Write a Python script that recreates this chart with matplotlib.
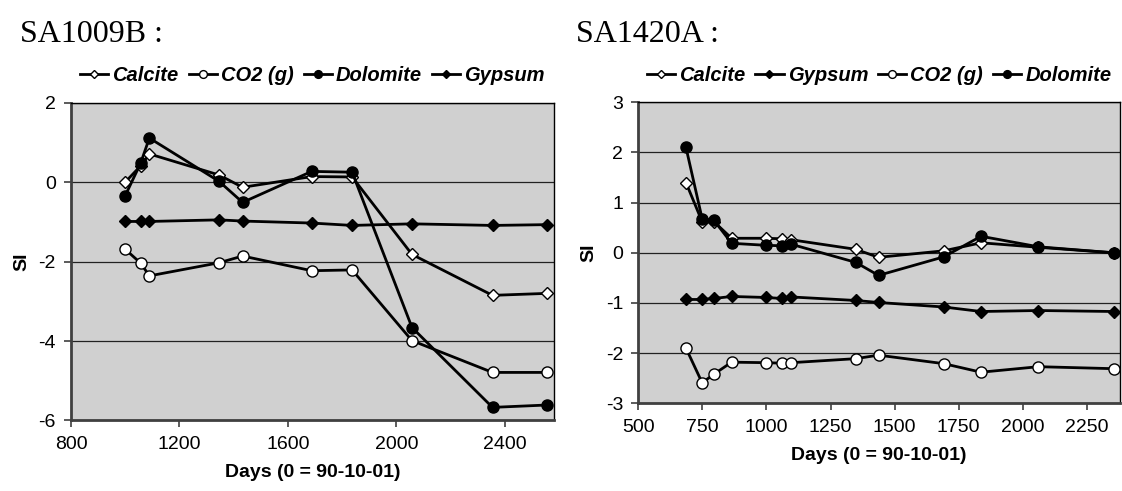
import numpy as np
import matplotlib
matplotlib.use("Agg")
import matplotlib.pyplot as plt

plt.rcParams['font.family'] = ['Liberation Sans', 'DejaVu Sans']
plt.rcParams['axes.unicode_minus'] = False

# SA1009B
dias_a = [1000, 1057, 1089, 1346, 1433, 1688, 1837, 2058, 2355, 2557]
calcite_a = [0.0, 0.41, 0.71, 0.18, -0.13, 0.14, 0.13, -1.82, -2.85, -2.80]
co2_a = [-1.69, -2.04, -2.36, -2.03, -1.86, -2.23, -2.21, -3.99, -4.79, -4.79]
dolomite_a = [-0.34, 0.48, 1.11, 0.02, -0.51, 0.27, 0.25, -3.66, -5.67, -5.61]
gypsum_a = [-0.99, -0.99, -0.99, -0.95, -0.98, -1.03, -1.09, -1.05, -1.09, -1.07]

# SA1420A
dias_b = [686, 749, 795, 864, 997, 1060, 1097, 1348, 1437, 1692, 1837, 2061, 2356]
calcite_b = [1.40, 0.62, 0.62, 0.29, 0.29, 0.28, 0.26, 0.07, -0.09, 0.04, 0.20, 0.11, 0.0]
gypsum_b = [-0.93, -0.93, -0.91, -0.87, -0.89, -0.91, -0.88, -0.95, -0.99, -1.08, -1.17, -1.15, -1.17]
co2_b = [-1.90, -2.59, -2.42, -2.18, -2.19, -2.20, -2.19, -2.11, -2.04, -2.21, -2.38, -2.27, -2.31]
dolomite_b = [2.10, 0.68, 0.65, 0.19, 0.15, 0.14, 0.17, -0.19, -0.45, -0.08, 0.33, 0.12, 0.0]

estilos = {
    'Calcite': dict(marker='D', markersize=6, markerfacecolor='white'),
    'CO2 (g)': dict(marker='o', markersize=8, markerfacecolor='white'),
    'Dolomite': dict(marker='o', markersize=8, markerfacecolor='black'),
    'Gypsum': dict(marker='D', markersize=6, markerfacecolor='black'),
}

fig = plt.figure(figsize=(11.22, 4.91), dpi=100)
ax1 = fig.add_axes([0.0633, 0.1436, 0.4305, 0.6473])
ax2 = fig.add_axes([0.5689, 0.1786, 0.4293, 0.6130])


def dibujar(ax, x, series):
    for nombre, y in series:
        ax.plot(x, y, color='black', lw=2.0, markeredgecolor='black',
                markeredgewidth=1.0, label=nombre, **estilos[nombre])
    ax.set_facecolor('#d0d0d0')
    ax.grid(axis='y', color='#222222', lw=0.9)
    ax.set_axisbelow(True)
    for lado in ['top', 'right']:
        ax.spines[lado].set_color('black')
        ax.spines[lado].set_linewidth(1.0)
    for lado in ['left', 'bottom']:
        ax.spines[lado].set_color('#404040')
        ax.spines[lado].set_linewidth(2.0)
    ax.tick_params(labelsize=14, length=5, width=1.2, color='#404040', pad=6)
    ax.set_xlabel('Days (0 = 90-10-01)', fontsize=14, fontweight='bold', labelpad=8)
    ax.set_ylabel('SI', fontsize=14, fontweight='bold', labelpad=6)
    ax.legend(loc='lower center', bbox_to_anchor=(0.5, 1.03), ncol=4,
              frameon=False, handlelength=1.4, handletextpad=0.2,
              columnspacing=0.5, markerscale=0.7,
              prop=dict(size=14.5, weight='bold', style='italic'),
              borderaxespad=0)


dibujar(ax1, dias_a, [('Calcite', calcite_a), ('CO2 (g)', co2_a),
                      ('Dolomite', dolomite_a), ('Gypsum', gypsum_a)])
ax1.set_xlim(800, 2582)
ax1.set_ylim(-6, 2)
ax1.set_xticks([800, 1200, 1600, 2000, 2400])
ax1.set_yticks([-6, -4, -2, 0, 2])

dibujar(ax2, dias_b, [('Calcite', calcite_b), ('Gypsum', gypsum_b),
                      ('CO2 (g)', co2_b), ('Dolomite', dolomite_b)])
ax2.set_xlim(500, 2379)
ax2.set_ylim(-3, 3)
ax2.set_xticks([500, 750, 1000, 1250, 1500, 1750, 2000, 2250])
ax2.set_yticks([-3, -2, -1, 0, 1, 2, 3])

fig.text(0.018, 0.915, 'SA1009B :', fontsize=23, family='Liberation Serif', va='baseline')
fig.text(0.513, 0.915, 'SA1420A :', fontsize=23, family='Liberation Serif', va='baseline')

fig.savefig('out.png', dpi=100)
